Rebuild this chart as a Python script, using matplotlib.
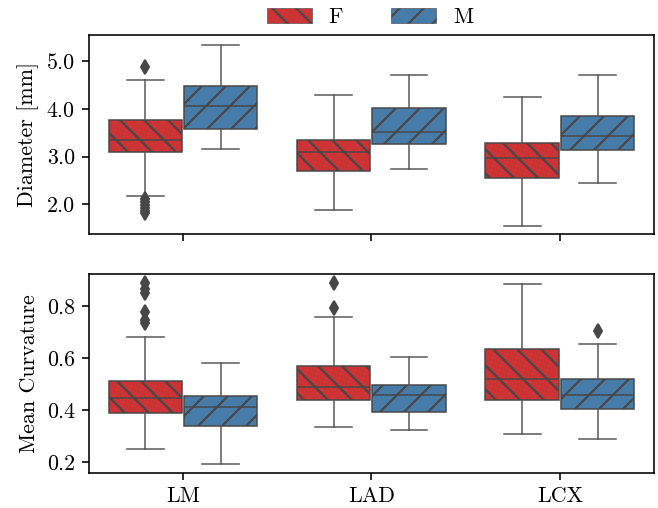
import matplotlib
matplotlib.use("Agg")
import matplotlib.pyplot as plt
from matplotlib.patches import Patch

plt.rcParams['font.family'] = 'serif'
plt.rcParams['font.serif'] = ['cmr10', 'DejaVu Serif']
plt.rcParams['axes.formatter.use_mathtext'] = True
plt.rcParams['font.size'] = 11
plt.rcParams['hatch.linewidth'] = 1.1
plt.rcParams['hatch.color'] = '#454545'

vessels = ['LM', 'LAD', 'LCX']
sexes = ['F', 'M']
colors = {'F': '#cb3335', 'M': '#477ca8'}
hatches = {'F': '\\\\', 'M': '//'}
gray = '#474747'

# Diameter [mm], per vessel (LM, LAD, LCX)
diam_F_q1 = [3.10, 2.70, 2.54]
diam_F_med = [3.35, 3.10, 2.96]
diam_F_q3 = [3.76, 3.34, 3.29]
diam_F_lo = [2.17, 1.88, 1.55]
diam_F_hi = [4.61, 4.29, 4.26]
diam_F_fliers = [[4.87, 2.10, 2.04, 1.98, 1.92, 1.86, 1.82], [], []]

diam_M_q1 = [3.58, 3.27, 3.14]
diam_M_med = [4.07, 3.51, 3.44]
diam_M_q3 = [4.49, 4.01, 3.85]
diam_M_lo = [3.16, 2.73, 2.45]
diam_M_hi = [5.35, 4.71, 4.71]
diam_M_fliers = [[], [], []]

# Mean curvature, per vessel
curv_F_q1 = [0.387, 0.438, 0.437]
curv_F_med = [0.447, 0.490, 0.518]
curv_F_q3 = [0.513, 0.569, 0.636]
curv_F_lo = [0.251, 0.335, 0.306]
curv_F_hi = [0.681, 0.758, 0.883]
curv_F_fliers = [[0.887, 0.865, 0.850, 0.778, 0.745, 0.733], [0.887, 0.791], []]

curv_M_q1 = [0.337, 0.392, 0.405]
curv_M_med = [0.413, 0.458, 0.456]
curv_M_q3 = [0.454, 0.495, 0.519]
curv_M_lo = [0.192, 0.323, 0.290]
curv_M_hi = [0.580, 0.603, 0.653]
curv_M_fliers = [[], [], [0.704]]


def make_stats(q1, med, q3, lo, hi, fliers):
    return [dict(q1=a, med=b, q3=c, whislo=d, whishi=e, fliers=f)
            for a, b, c, d, e, f in zip(q1, med, q3, lo, hi, fliers)]


panels = [
    ('Diameter [mm]',
     {'F': make_stats(diam_F_q1, diam_F_med, diam_F_q3, diam_F_lo, diam_F_hi, diam_F_fliers),
      'M': make_stats(diam_M_q1, diam_M_med, diam_M_q3, diam_M_lo, diam_M_hi, diam_M_fliers)},
     (1.37, 5.55), [2.0, 3.0, 4.0, 5.0]),
    ('Mean Curvature',
     {'F': make_stats(curv_F_q1, curv_F_med, curv_F_q3, curv_F_lo, curv_F_hi, curv_F_fliers),
      'M': make_stats(curv_M_q1, curv_M_med, curv_M_q3, curv_M_lo, curv_M_hi, curv_M_fliers)},
     (0.158, 0.923), [0.2, 0.4, 0.6, 0.8]),
]

fig = plt.figure(figsize=(658 / 144, 508 / 144), dpi=144)
ax_top = fig.add_axes([0.135, 0.539, 0.859, 0.392])
ax_bot = fig.add_axes([0.135, 0.069, 0.859, 0.392], sharex=ax_top)

offsets = {'F': -0.2, 'M': 0.2}
for ax, (ylabel, stats, ylim, yticks) in zip([ax_top, ax_bot], panels):
    for s in sexes:
        pos = [i + offsets[s] for i in range(len(vessels))]
        art = ax.bxp(stats[s], positions=pos, widths=0.39, patch_artist=True,
                     manage_ticks=False,
                     boxprops=dict(facecolor=colors[s], edgecolor=gray, linewidth=0.75),
                     whiskerprops=dict(color='#555555', linewidth=0.75),
                     capprops=dict(color='#555555', linewidth=0.75),
                     medianprops=dict(color=gray, linewidth=0.75),
                     flierprops=dict(marker='d', markerfacecolor=gray, markeredgecolor=gray,
                                     markersize=5, linestyle='none'))
        for b in art['boxes']:
            b.set_hatch(hatches[s])
    ax.set_ylim(*ylim)
    ax.set_yticks(yticks)
    ax.set_yticklabels(['%.1f' % t for t in yticks])
    ax.set_ylabel(ylabel)

ax_bot.set_xlim(-0.5, 2.5)
ax_bot.set_xticks(range(len(vessels)))
ax_bot.set_xticklabels(vessels)
ax_top.tick_params(axis='x', labelbottom=False)

handles = [Patch(facecolor=colors[s], edgecolor=gray, linewidth=0.3,
                 hatch=hatches[s], label=s)
           for s in sexes]
fig.legend(handles=handles, loc='center', bbox_to_anchor=(0.562, 0.966), ncol=2,
           frameon=False, handlelength=2.05, handleheight=0.7, handletextpad=0.75,
           columnspacing=2.2)

fig.savefig('out.png', dpi=144)
